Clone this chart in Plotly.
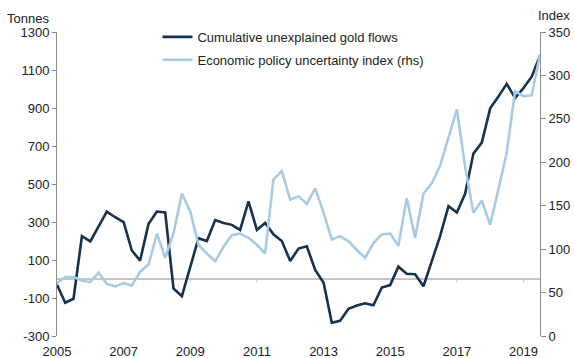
import plotly.graph_objects as go
import pandas as pd

# ---------------- data ----------------
start_quarter = "2005-01-01"
n_quarters = 59
quarters = pd.date_range(start_quarter, periods=n_quarters, freq="QS")

gold_flows = [
    -30, -125, -104, 225, 198, 280, 355, 325, 300, 150,
    97, 290, 355, 350, -50, -90, 60, 215, 200, 310,
    295, 285, 258, 408, 258, 295, 235, 200, 95, 160,
    172, 48, -20, -230, -220, -157, -140, -128, -138, -45,
    -32, 65, 28, 25, -38, 100, 226, 383, 350, 448,
    660, 718, 898, 960, 1027, 953, 1005, 1065, 1175,
]

epu_index = [
    61, 68, 68, 64, 62, 73, 60, 57, 61, 58,
    74, 82, 118, 90, 118, 164, 143, 105, 95, 86,
    103, 116, 118, 113, 105, 95, 180, 190, 157, 161,
    152, 170, 142, 111, 115, 109, 99, 90, 107, 117,
    118, 104, 159, 113, 164, 176, 196, 228, 261, 195,
    142, 156, 128, 169, 211, 282, 276, 277, 324,
]

series_names = ["Cumulative unexplained gold flows",
                "Economic policy uncertainty index (rhs)"]

left_ticks = [-300, -100, 100, 300, 500, 700, 900, 1100, 1300]
left_tick_text = ["-300", "-100", "100", "300", "500", "700", "900", "1100", "1300"]
right_ticks = [0, 50, 100, 150, 200, 250, 300, 350]
year_ticks = ["2005", "2007", "2009", "2011", "2013", "2015", "2017", "2019"]

# ---------------- figure ----------------
dark = "#15324F"
light = "#A8CBE5"
axis_col = "#8C8C8C"
txt = "#222222"
font_family = "Liberation Sans, Arial, sans-serif"

fig = go.Figure()
fig.add_trace(go.Scatter(x=quarters, y=gold_flows, mode="lines", name=series_names[0],
                         line=dict(color=dark, width=2.6), legendgroup="a"))
fig.add_trace(go.Scatter(x=quarters, y=epu_index, mode="lines", name=series_names[1],
                         line=dict(color=light, width=2.6), yaxis="y2", legendgroup="b"))

# zero line with small ticks
fig.add_shape(type="line", xref="paper", yref="y", x0=0, x1=1, y0=0, y1=0,
              line=dict(color=axis_col, width=1), layer="below")
for yr in year_ticks[2:]:
    fig.add_shape(type="line", xref="x", yref="y", x0=f"{yr}-01-01", x1=f"{yr}-01-01",
                  y0=0, y1=-18, line=dict(color="#C8C8C8", width=1), layer="below")

fig.update_layout(
    width=574, height=358,
    margin=dict(l=57, r=34, t=32, b=22, autoexpand=False),
    paper_bgcolor="white", plot_bgcolor="white",
    font=dict(family=font_family, size=13, color=txt),
    showlegend=True,
    legend=dict(x=0.208, y=1.033, xanchor="left", yanchor="top",
                bgcolor="rgba(0,0,0,0)", font=dict(size=13, color=txt),
                traceorder="grouped", tracegroupgap=3, itemwidth=30),
    xaxis=dict(
        type="date", automargin=False,
        range=["2005-01-01", "2019-07-01"],
        tickvals=[f"{y}-01-01" for y in year_ticks],
        ticktext=year_ticks,
        showgrid=False, zeroline=False, showline=False,
        ticks="outside", ticklen=3, tickcolor="rgba(0,0,0,0)",
        tickfont=dict(size=13, color=txt),
    ),
    yaxis=dict(
        range=[-300, 1300], automargin=False,
        tickvals=left_ticks, ticktext=left_tick_text,
        showgrid=False, zeroline=False,
        showline=True, linecolor=axis_col, linewidth=1,
        ticks="outside", ticklen=4, tickcolor=axis_col,
        tickfont=dict(size=13, color=txt),
    ),
    yaxis2=dict(
        range=[0, 350], overlaying="y", side="right", automargin=False,
        tickvals=right_ticks,
        showgrid=False, zeroline=False,
        showline=True, linecolor=axis_col, linewidth=1,
        ticks="outside", ticklen=5, tickcolor=axis_col,
        tickfont=dict(size=13, color=txt),
    ),
    annotations=[
        dict(text="Tonnes", xref="paper", yref="paper", x=-0.108, y=1.046,
             xanchor="left", yanchor="middle", showarrow=False,
             font=dict(size=13, color=txt)),
        dict(text="Index", xref="paper", yref="paper", x=1.066, y=1.053,
             xanchor="right", yanchor="middle", showarrow=False,
             font=dict(size=13, color=txt)),
    ],
)

fig.write_html("out.html",
               config={"displayModeBar": False},
               post_script="document.body.style.margin='0px';document.body.style.overflow='hidden';")
